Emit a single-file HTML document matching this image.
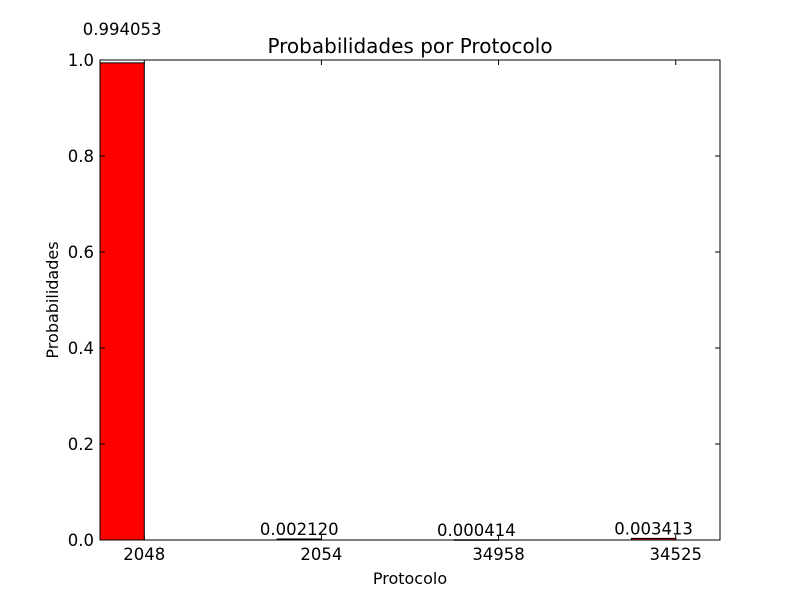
<!DOCTYPE html>
<html><head><meta charset="utf-8"><style>
body{margin:0;background:#fff;}
svg{display:block;font-family:"DejaVu Sans","Liberation Sans",sans-serif;}
</style></head><body>
<svg id="chart" width="800" height="600">
<rect width="800" height="600" fill="#fff"/>
<text x="410" y="53" font-size="20" text-anchor="middle">Probabilidades por Protocolo</text>
<text x="410" y="584" font-size="16" text-anchor="middle">Protocolo</text>
<text transform="translate(58,300) rotate(-90)" font-size="16" text-anchor="middle">Probabilidades</text>
<g id="bars"></g>
<g id="axes"></g>
</svg>
<script>
const categories = ["2048","2054","34958","34525"];
const values = [0.994053,0.002120,0.000414,0.003413];
const valueLabels = ["0.994053","0.002120","0.000414","0.003413"];
const yTicks = [0,0.2,0.4,0.6,0.8,1.0];
const yTickLabels = ["0.0","0.2","0.4","0.6","0.8","1.0"];
const L=100,R=720,T=60,B=540,barW=0.25,xMax=3.5;
const ns="http://www.w3.org/2000/svg";
function X(v){return L+v/xMax*(R-L);}
function Y(v){return B-v*(B-T);}
function mk(t,a,p){const e=document.createElementNS(ns,t);for(const k in a)e.setAttribute(k,a[k]);p.appendChild(e);return e;}
const bars=document.getElementById('bars'),axes=document.getElementById('axes');
values.forEach((v,i)=>{
  const r=mk('rect',{x:X(i),y:Y(v),width:X(i+barW)-X(i),height:Math.max(B-Y(v),0.5),fill:'#ff0000',stroke:'#000','stroke-width':1},bars);
  
  
  const t=mk('text',{x:X(i+barW/2),y:Y(v*1.05)-4,'font-size':16.5,'text-anchor':'middle'},bars);
  t.textContent=valueLabels[i];
  
  
});
const frame=mk('rect',{x:L,y:T,width:R-L,height:B-T,fill:'none',stroke:'#000','stroke-width':1},axes);


yTicks.forEach((v,i)=>{
  const y=Y(v);
  mk('line',{x1:L,x2:L+5,y1:y,y2:y,stroke:'#000'},axes);
  mk('line',{x1:R,x2:R-5,y1:y,y2:y,stroke:'#000'},axes);
  const t=mk('text',{x:L-6,y:y+6,'font-size':16.5,'text-anchor':'end'},axes);
  t.textContent=yTickLabels[i];
  
  
});
categories.forEach((c,i)=>{
  const x=X(i+barW);
  mk('line',{x1:x,x2:x,y1:B,y2:B-5,stroke:'#000'},axes);
  mk('line',{x1:x,x2:x,y1:T,y2:T+5,stroke:'#000'},axes);
  const t=mk('text',{x:x,y:B+20,'font-size':16.5,'text-anchor':'middle'},axes);
  t.textContent=c;
  
  
});
</script>
</body></html>
